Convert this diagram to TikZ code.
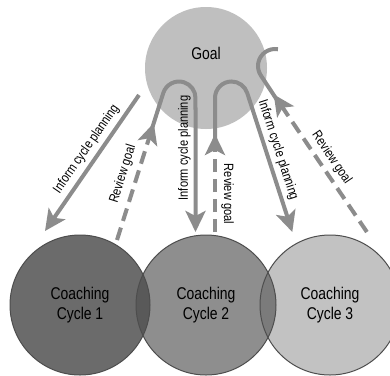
\documentclass[tikz,border=0pt]{standalone}
\usepackage{fontspec}
\setmainfont{Liberation Sans}[FakeStretch=0.82]
\usetikzlibrary{arrows.meta}
\definecolor{goalc}{HTML}{BFBFBF}
\definecolor{cA}{HTML}{6B6B6B}
\definecolor{cB}{HTML}{8E8E8E}
\definecolor{cC}{HTML}{C2C2C2}
\definecolor{cAB}{HTML}{595959}
\definecolor{cBC}{HTML}{7B7B7B}
\definecolor{rim}{HTML}{4D4D4D}
\definecolor{arr}{HTML}{8C8C8C}
\begin{document}
\begin{tikzpicture}[x=1pt,y=1pt,yscale=-1,
  flow/.style={draw=arr, line width=4pt},
  tipped/.style={-{Stealth[length=21pt,width=20pt,inset=5pt]}},
  dashflow/.style={flow, dash pattern=on 13pt off 7pt},
  lbl/.style={font=\fontsize{13.5}{15}\selectfont, inner sep=0pt},
  disc/.style={circle, minimum size=140pt, inner sep=0pt},
  cyctext/.style={align=center, inner sep=0pt, font=\fontsize{17}{19.5}\selectfont}
]
\fill[white] (0,0) rectangle (390,375);
\useasboundingbox (0,0) rectangle (390,375);

% goal
\node[circle, minimum size=122pt, inner sep=0pt, fill=goalc] (goal) at (206,68) {};
\node[cyctext] (goaltext) at (206,53) {Goal};

% coaching circles
\node[disc, fill=cA] (cc1) at (80,305) {};
\node[disc, fill=cB] (cc2) at (206,305) {};
\node[disc, fill=cC] (cc3) at (330,305) {};
\begin{scope}
  \clip (cc1.center) circle (70);
  \fill[cAB] (cc2.center) circle (70);
\end{scope}
\begin{scope}
  \clip (cc2.center) circle (70);
  \fill[cBC] (cc3.center) circle (70);
\end{scope}
\draw[rim, line width=1pt] (cc1.center) circle (70);
\draw[rim, line width=1pt] (cc2.center) circle (70);
\draw[rim, line width=1pt] (cc3.center) circle (70);
\node[cyctext] (t1) at (cc1.center) {Coaching\\Cycle 1};
\node[cyctext] (t2) at (cc2.center) {Coaching\\Cycle 2};
\node[cyctext] (t3) at (cc3.center) {Coaching\\Cycle 3};

% coordinates
\coordinate (a1s) at (139,95);
\coordinate (a1e) at (45,231);
\coordinate (r1s) at (117,240);
\coordinate (r1t) at (153.8,123);
\coordinate (u1a) at (150.6,133);
\coordinate (u1b) at (163.26,93.04);
\coordinate (a2e) at (195.5,232);
\coordinate (r2s) at (215,232);
\coordinate (r2t) at (215,134);
\coordinate (u2a) at (215,142);
\coordinate (u2b) at (215,98);
\coordinate (a3e) at (292.3,232);
\coordinate (h3s) at (277.95,49.26);
\coordinate (h3e) at (279,103);
\coordinate (r3s) at (366.9,232);
\coordinate (r3t) at (273.7,94.4);

% inform 1
\draw[flow,tipped] (a1s) -- (a1e);
% review 1 + inform 2
\draw[flow,tipped] (u1a) -- (u1b) arc[start angle=197.5, end angle=360, radius=16.5] -- (a2e);
\draw[dashflow,tipped] (r1s) -- (r1t);
% review 2 + inform 3
\draw[flow,tipped] (u2a) -- (u2b) arc[start angle=180, end angle=342.1, radius=16.5] -- (a3e);
\draw[dashflow,tipped] (r2s) -- (r2t);
% review 3 hook
\draw[flow] (h3s) arc[start angle=-80, end angle=-214.1, radius=17] -- (h3e);
\draw[dashflow,tipped] (r3s) -- (r3t);

% labels
\node[lbl, rotate=55.4] (l1) at (86.5,149) {Inform cycle planning};
\node[lbl, rotate=72.5] (l2) at (123,174) {Review goal};
\node[lbl, rotate=90] (l3) at (184.5,148) {Inform cycle planning};
\node[lbl, rotate=-90] (l4) at (227.5,194) {Review goal};
\node[lbl, rotate=-72] (l5) at (278,150) {Inform cycle planning};
\node[lbl, rotate=-56] (l6) at (331.5,158) {Review goal};
\end{tikzpicture}
\end{document}
